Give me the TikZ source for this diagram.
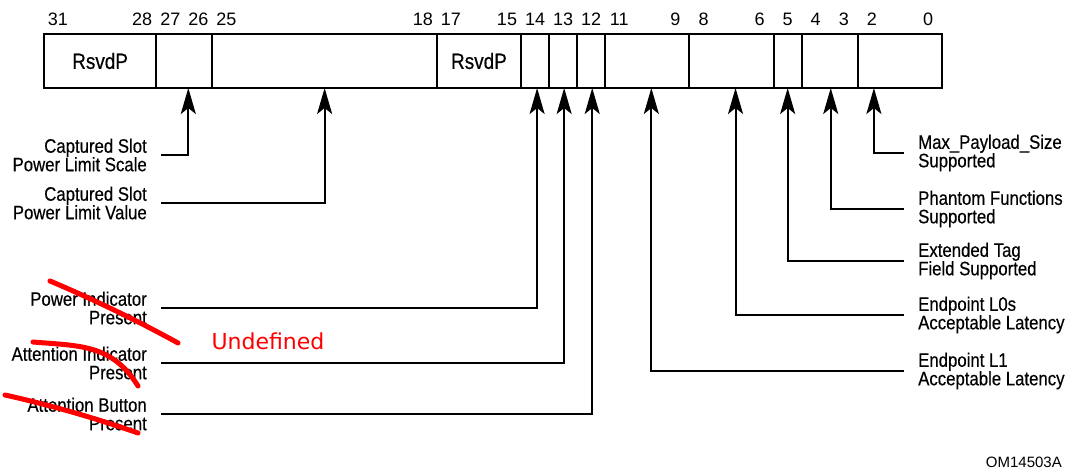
\documentclass[tikz,border=0pt]{standalone}
\usepackage{fontspec}
\setmainfont{Liberation Sans}
\newfontfamily\narrowfont[FakeStretch=0.86,FakeBold=0.4]{Liberation Sans}
\newfontfamily\notefont{DejaVu Sans}
\usetikzlibrary{arrows.meta,positioning}
\newcommand{\bw}{28.0625pt}

\begin{document}
\begin{tikzpicture}[
  x=1pt, y=-1pt,
  field/.style={draw, line width=2pt, outer sep=0pt, inner sep=0pt,
    minimum height=54pt, anchor=west},
  rsvd/.style={font=\narrowfont\fontsize{22}{22}\selectfont},
  bitnum/.style={font=\fontsize{18}{18}\selectfont, inner sep=0pt},
  fieldlabel/.style={font=\narrowfont\fontsize{19.5}{18.5}\selectfont,
    inner xsep=14pt, inner ysep=0pt},
  leftlabel/.style={fieldlabel, align=right, anchor=east},
  rightlabel/.style={fieldlabel, align=left, anchor=west},
  pointer/.style={-{Stealth[length=26pt,width=15pt,inset=6pt]}, line width=2pt},
  strike/.style={draw=red, line width=5pt, line cap=round}
]
\useasboundingbox (0,0) rectangle (1068,470);

% Register fields
\node[field, rsvd, minimum width=4*\bw] (fRsvdA) at (44,61) {RsvdP};
\node[field, minimum width=2*\bw, right=0pt of fRsvdA] (fScale) {};
\node[field, minimum width=8*\bw, right=0pt of fScale] (fValue) {};
\node[field, rsvd, minimum width=3*\bw, right=0pt of fValue] (fRsvdB) {RsvdP};
\node[field, minimum width=\bw, right=0pt of fRsvdB] (fPwrInd) {};
\node[field, minimum width=\bw, right=0pt of fPwrInd] (fAttInd) {};
\node[field, minimum width=\bw, right=0pt of fAttInd] (fAttBtn) {};
\node[field, minimum width=3*\bw, right=0pt of fAttBtn] (fL1) {};
\node[field, minimum width=3*\bw, right=0pt of fL1] (fL0s) {};
\node[field, minimum width=\bw, right=0pt of fL0s] (fExtTag) {};
\node[field, minimum width=2*\bw, right=0pt of fExtTag] (fPhantom) {};
\node[field, minimum width=3*\bw, right=0pt of fPhantom] (fMaxPay) {};

% Bit numbers
\node[bitnum] (b31) at (58.0,19.5) {31};
\node[bitnum] (b28) at (142.2,19.5) {28};
\node[bitnum] (b27) at (170.3,19.5) {27};
\node[bitnum] (b26) at (198.3,19.5) {26};
\node[bitnum] (b25) at (226.4,19.5) {25};
\node[bitnum] (b18) at (422.8,19.5) {18};
\node[bitnum] (b17) at (450.9,19.5) {17};
\node[bitnum] (b15) at (507.0,19.5) {15};
\node[bitnum] (b14) at (535.1,19.5) {14};
\node[bitnum] (b13) at (563.2,19.5) {13};
\node[bitnum] (b12) at (591.2,19.5) {12};
\node[bitnum] (b11) at (619.3,19.5) {11};
\node[bitnum] (b9) at (675.4,19.5) {9};
\node[bitnum] (b8) at (703.5,19.5) {8};
\node[bitnum] (b6) at (759.6,19.5) {6};
\node[bitnum] (b5) at (787.7,19.5) {5};
\node[bitnum] (b4) at (815.7,19.5) {4};
\node[bitnum] (b3) at (843.8,19.5) {3};
\node[bitnum] (b2) at (871.8,19.5) {2};
\node[bitnum] (b0) at (928.0,19.5) {0};

% Left-hand labels
\node[leftlabel] (lScale) at (161,155) {Captured Slot\\Power Limit Scale};
\node[leftlabel] (lValue) at (161,203) {Captured Slot\\Power Limit Value};
\node[leftlabel] (lPwrInd) at (161,308) {Power Indicator\\Present};
\node[leftlabel] (lAttInd) at (161,363) {Attention Indicator\\Present};
\node[leftlabel] (lAttBtn) at (161,414) {Attention Button\\Present};

\draw[pointer] (lScale.east) -| ([xshift=4pt]fScale.south);
\draw[pointer] (lValue.east) -| (fValue.south);
\draw[pointer] (lPwrInd.east) -| ([xshift=2pt]fPwrInd.south);
\draw[pointer] (lAttInd.east) -| ([xshift=1pt]fAttInd.south);
\draw[pointer] (lAttBtn.east) -| ([xshift=1pt]fAttBtn.south);

% Right-hand labels
\node[rightlabel] (lMaxPay) at (904,153) {Max\_Payload\_Size\\Supported};
\node[rightlabel] (lPhantom) at (904,209) {Phantom Functions\\Supported};
\node[rightlabel] (lExtTag) at (904,261) {Extended Tag\\Field Supported};
\node[rightlabel] (lL0s) at (904,315) {Endpoint L0s\\Acceptable Latency};
\node[rightlabel] (lL1) at (904,371) {Endpoint L1\\Acceptable Latency};

\draw[pointer] (lMaxPay.west) -| ([xshift=-26pt]fMaxPay.south);
\draw[pointer] (lPhantom.west) -| ([xshift=1pt]fPhantom.south);
\draw[pointer] (lExtTag.west) -| (fExtTag.south);
\draw[pointer] (lL0s.west) -| ([xshift=4pt]fL0s.south);
\draw[pointer] (lL1.west) -| ([xshift=4pt]fL1.south);

% Hand-drawn strike-outs
\draw[strike] (50,281) .. controls (95,300) and (140,322) .. (178,343);
\draw[strike] (33,342) .. controls (80,346) and (112,344) .. (138,386);
\draw[strike] (5,395) .. controls (50,405) and (95,418) .. (138,433);
\node[font=\notefont\fontsize{22}{22}\selectfont, text=red] (undef) at (268,341) {Undefined};

\node[font=\fontsize{15}{15}\selectfont, anchor=east, inner sep=0pt] (figid) at (1062,462) {OM14503A};

\end{tikzpicture}
\end{document}
